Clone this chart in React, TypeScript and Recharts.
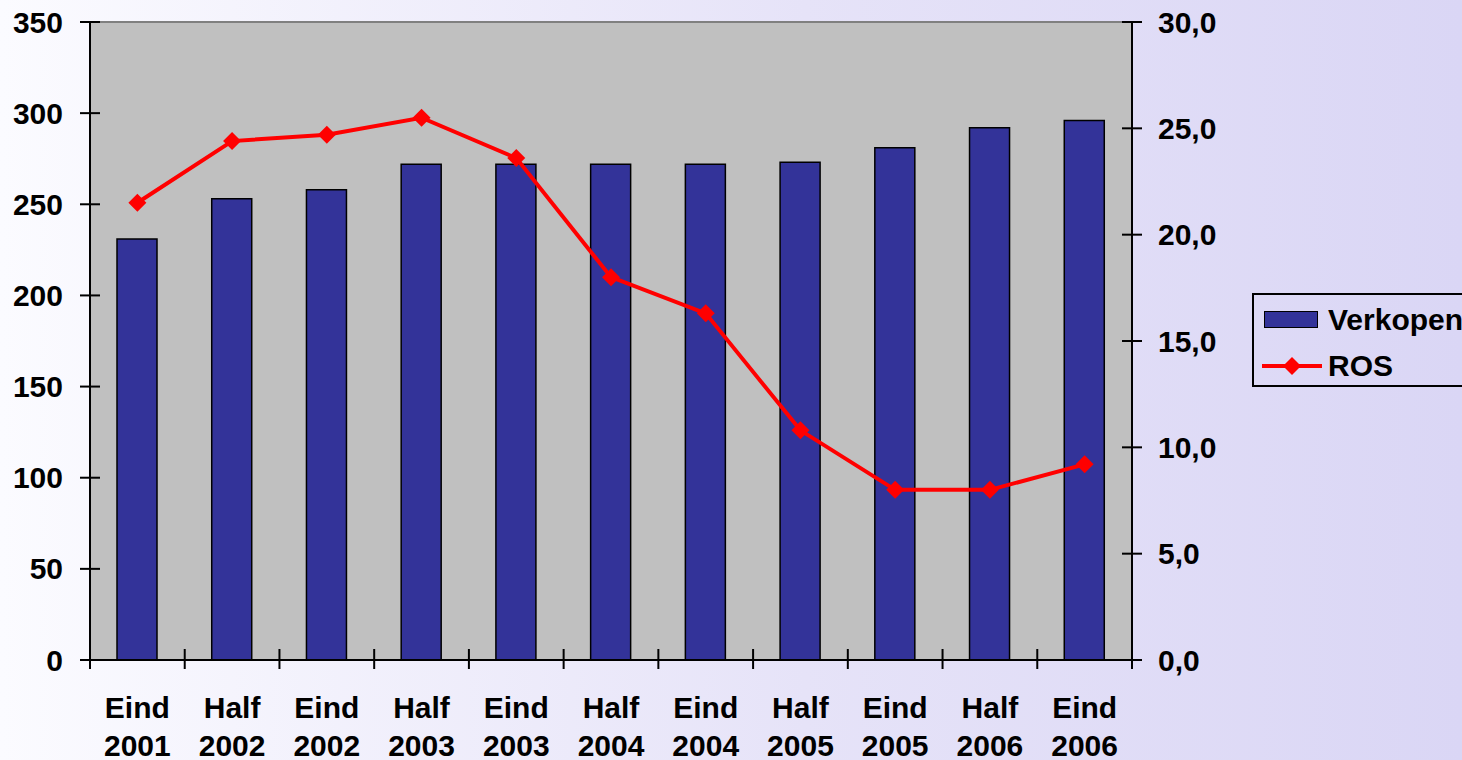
import React from "react";
import {
  ComposedChart,
  Bar,
  Line,
  XAxis,
  YAxis,
  CartesianGrid,
  ReferenceLine,
} from "recharts";

// period labels (two lines each)
const periods = ["Eind", "Half", "Eind", "Half", "Eind", "Half", "Eind", "Half", "Eind", "Half", "Eind"];
const years = ["2001", "2002", "2002", "2003", "2003", "2004", "2004", "2005", "2005", "2006", "2006"];

// Verkopen (left axis) and ROS (right axis)
const verkopen = [231, 253, 258, 272, 272, 272, 272, 273, 281, 292, 296];
const ros = [21.5, 24.4, 24.7, 25.5, 23.6, 18.0, 16.3, 10.8, 8.0, 8.0, 9.2];

const leftTicks = [0, 50, 100, 150, 200, 250, 300, 350];
const rightTicks = [0, 5, 10, 15, 20, 25, 30];

const data = periods.map((p, i) => ({
  cat: `${p} ${years[i]}`,
  verkopen: verkopen[i],
  ros: ros[i],
}));

const W = 1462;
const H = 760;
const PLOT_LEFT = 90;
const PLOT_RIGHT = 1132;
const BAND = (PLOT_RIGHT - PLOT_LEFT) / periods.length;
const FONT = "'Liberation Sans', Arial, sans-serif";
const FS = 30;

function LeftTick(props: any) {
  const { x, y, payload } = props;
  return (
    <g>
      <line x1={x - 10} x2={x + 10} y1={y} y2={y} stroke="#000" strokeWidth={2} />
      <text x={x - 27} y={y} textAnchor="end" dominantBaseline="central"
        fontFamily={FONT} fontWeight="bold" fontSize={FS} fill="#000">
        {payload.value}
      </text>
    </g>
  );
}

function RightTick(props: any) {
  const { x, y, payload } = props;
  return (
    <g>
      <line x1={x - 10} x2={x + 10} y1={y} y2={y} stroke="#000" strokeWidth={2} />
      <text x={x + 26} y={y} textAnchor="start" dominantBaseline="central"
        fontFamily={FONT} fontWeight="bold" fontSize={FS} fill="#000">
        {Number(payload.value).toFixed(1).replace(".", ",")}
      </text>
    </g>
  );
}

function XTick(props: any) {
  const { x, y, payload, index } = props;
  const [p, yr] = String(payload.value).split(" ");
  const right = x + BAND / 2;
  const left = x - BAND / 2;
  return (
    <g>
      {index === 0 && (
        <line x1={left} x2={left} y1={y} y2={y + 9} stroke="#000" strokeWidth={2} />
      )}
      <line x1={right} x2={right} y1={index === periods.length - 1 ? y : y - 11} y2={y + 9}
        stroke="#000" strokeWidth={2} />
      <text x={x} y={y + 47} textAnchor="middle" dominantBaseline="central"
        fontFamily={FONT} fontWeight="bold" fontSize={FS} fill="#000">
        {p}
      </text>
      <text x={x} y={y + 85} textAnchor="middle" dominantBaseline="central"
        fontFamily={FONT} fontWeight="bold" fontSize={FS} fill="#000">
        {yr}
      </text>
    </g>
  );
}

function Diamond(props: any) {
  const { cx, cy } = props;
  if (cx == null || cy == null) return null;
  const r = 9;
  return (
    <polygon
      points={`${cx},${cy - r} ${cx + r},${cy} ${cx},${cy + r} ${cx - r},${cy}`}
      fill="#ff0000"
    />
  );
}

function LegendBox() {
  const txt: React.CSSProperties = {
    position: "absolute",
    fontFamily: FONT,
    fontWeight: "bold",
    fontSize: FS,
    color: "#000",
    lineHeight: "34px",
    whiteSpace: "nowrap",
  };
  return (
    <div
      style={{
        position: "absolute",
        left: 1252,
        top: 293,
        width: 240,
        height: 94,
        border: "2px solid #000",
        boxSizing: "border-box",
        overflow: "hidden",
      }}
    >
      <div
        style={{
          position: "absolute",
          left: 10,
          top: 16,
          width: 54,
          height: 17,
          background: "#333399",
          border: "1.5px solid #000",
          boxSizing: "border-box",
        }}
      />
      <div style={{ ...txt, left: 74, top: 8 }}>Verkopen</div>
      <svg style={{ position: "absolute", left: 8, top: 59 }} width={60} height={24}>
        <line x1={0} x2={60} y1={12} y2={12} stroke="#ff0000" strokeWidth={4} />
        <polygon points="30,3 39,12 30,21 21,12" fill="#ff0000" />
      </svg>
      <div style={{ ...txt, left: 74, top: 54 }}>ROS</div>
    </div>
  );
}

export default function App() {
  return (
    <div
      style={{
        position: "absolute",
        left: 0,
        top: 0,
        width: W,
        height: H,
        overflow: "hidden",
        background: "linear-gradient(to right, #fbfbff 0%, #e6e3f8 55%, #dad6f5 100%)",
      }}
    >
      <ComposedChart
        width={W}
        height={H}
        data={data}
        margin={{ top: 22, right: 0, bottom: 0, left: 0 }}
        barSize={40}
      >
        <CartesianGrid horizontal={false} vertical={false} fill="#c0c0c0" />
        <XAxis
          dataKey="cat"
          height={100}
          interval={0}
          tickLine={false}
          tickSize={0}
          tickMargin={0}
          axisLine={{ stroke: "#000", strokeWidth: 2 }}
          tick={<XTick />}
        />
        <YAxis
          yAxisId="left"
          orientation="left"
          width={90}
          domain={[0, 350]}
          ticks={leftTicks}
          tickLine={false}
          tickSize={0}
          tickMargin={0}
          axisLine={{ stroke: "#000", strokeWidth: 2 }}
          tick={<LeftTick />}
        />
        <YAxis
          yAxisId="right"
          orientation="right"
          width={330}
          domain={[0, 30]}
          ticks={rightTicks}
          tickLine={false}
          tickSize={0}
          tickMargin={0}
          axisLine={{ stroke: "#000", strokeWidth: 2 }}
          tick={<RightTick />}
        />
        <ReferenceLine yAxisId="left" y={350} stroke="#808080" strokeWidth={2} />
        <Bar
          yAxisId="left"
          dataKey="verkopen"
          fill="#333399"
          stroke="#000"
          strokeWidth={1.5}
          isAnimationActive={false}
        />
        <Line
          yAxisId="right"
          dataKey="ros"
          stroke="#ff0000"
          strokeWidth={4}
          dot={<Diamond />}
          activeDot={false}
          isAnimationActive={false}
        />
      </ComposedChart>
      <LegendBox />
    </div>
  );
}
